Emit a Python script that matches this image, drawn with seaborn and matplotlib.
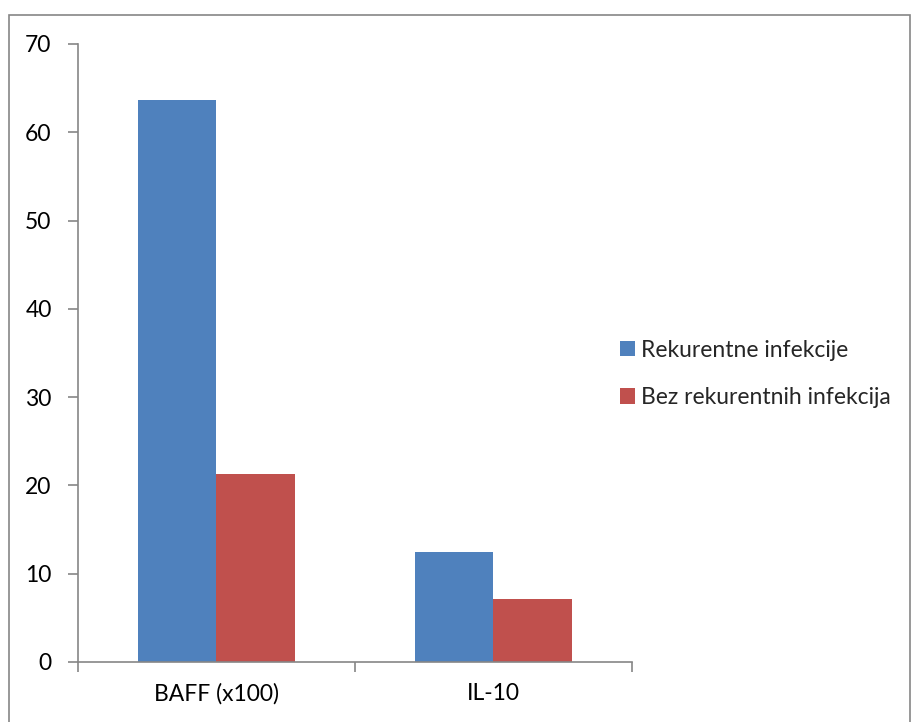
import matplotlib
matplotlib.use("Agg")
import matplotlib.pyplot as plt
import seaborn as sns
import pandas as pd
from matplotlib.patches import Rectangle

categories = ["BAFF (x100)", "IL-10"]
series_names = ["Rekurentne infekcije", "Bez rekurentnih infekcija"]
rekurentne = [63.7, 12.5]
bez_rekurentnih = [21.3, 7.1]
y_ticks = [0, 10, 20, 30, 40, 50, 60, 70]

df = pd.DataFrame({
    "kategorija": categories * 2,
    "grupa": [series_names[0]] * len(categories) + [series_names[1]] * len(categories),
    "vrijednost": rekurentne + bez_rekurentnih,
})

sns.set_theme(style="white")
plt.rcParams["font.family"] = ["Lato", "DejaVu Sans"]

fig = plt.figure(figsize=(9.2, 7.22), dpi=100)
ax = fig.add_axes([78 / 920, 1 - 662 / 722, (632 - 78) / 920, (662 - 44) / 722])

palette = {series_names[0]: "#4F81BD", series_names[1]: "#C0504D"}
sns.barplot(data=df, x="kategorija", y="vrijednost", hue="grupa", palette=palette,
            width=0.57, saturation=1, linewidth=0, ax=ax, legend=True)

ax.set_xlim(-0.5, 1.5)
ax.set_ylim(0, 70)
ax.set_yticks(y_ticks)
ax.set_xlabel("")
ax.set_ylabel("")

grey = "#868686"
for side in ["top", "right"]:
    ax.spines[side].set_visible(False)
for side in ["left", "bottom"]:
    ax.spines[side].set_color(grey)
    ax.spines[side].set_linewidth(1.2)

fs = 16.5
ax.tick_params(axis="y", which="major", direction="out", length=7, width=1.2,
               color=grey, left=True, labelsize=fs, pad=12, labelcolor="black")
ax.tick_params(axis="x", which="major", length=0, labelsize=fs, pad=15, labelcolor="black")
ax.set_xticks([-0.5, 0.5, 1.5], minor=True)
ax.tick_params(axis="x", which="minor", direction="out", length=7, width=1.2,
               color=grey, bottom=True)

handles, labels = ax.get_legend_handles_labels()
ax.get_legend().remove()
fig.legend(handles, labels, loc="center left", bbox_to_anchor=(599 / 920, 1 - 374 / 722),
           frameon=False, fontsize=fs, handlelength=0.65, handleheight=0.65,
           handletextpad=0.3, labelspacing=1.15)

# chart-area frame; its lower edge runs past the bottom of the canvas
fig.patches.append(Rectangle((9 / 920, -0.02), 901 / 920, 1.02 - 15 / 722,
                             transform=fig.transFigure, fill=False,
                             edgecolor=grey, linewidth=1.2))

fig.savefig("out.png", dpi=100)
